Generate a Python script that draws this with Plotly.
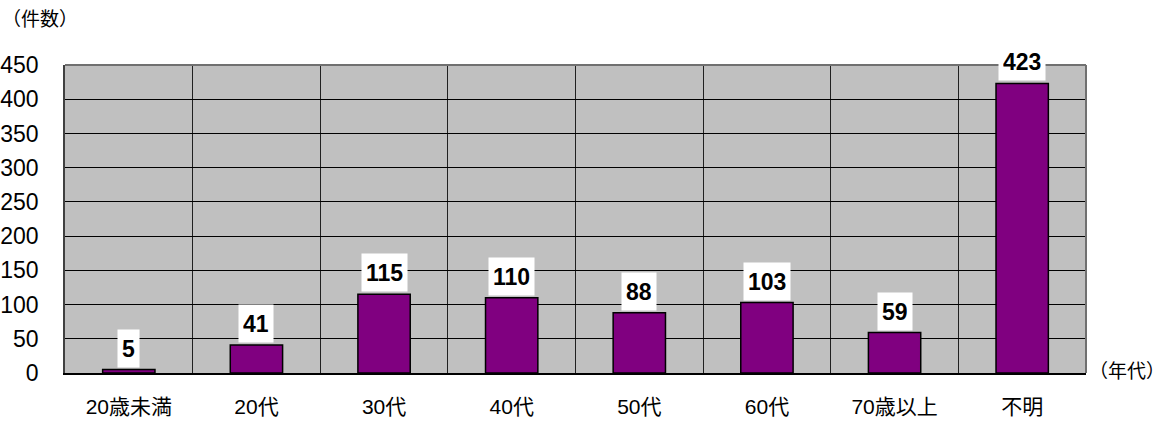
import plotly.graph_objects as go

categories = ["20歳未満", "20代", "30代", "40代", "50代", "60代", "70歳以上", "不明"]
counts = [5, 41, 115, 110, 88, 103, 59, 423]
y_ticks = [0, 50, 100, 150, 200, 250, 300, 350, 400, 450]

FONT = "Liberation Sans, Noto Sans CJK JP, sans-serif"
LABEL_FONT = "Liberation Sans, sans-serif"
W, H = 1176, 423
ML, MT = 65, 65
PLOT_R, PLOT_B = 1086, 373
MR, MB = W - PLOT_R, H - PLOT_B
PW, PH = W - ML - MR, H - MT - MB

fig = go.Figure()
fig.add_trace(go.Bar(
    x=categories, y=counts, width=0.41,
    marker=dict(color="#800080", line=dict(color="#000000", width=1.5)),
    showlegend=False, hoverinfo="x+y",
))

for c, v in zip(categories, counts):
    fig.add_annotation(
        x=c, y=v, xref="x", yref="y", text=str(v), showarrow=False,
        yanchor="bottom", yshift=2, bgcolor="#ffffff", borderpad=4,
        height=29, valign="middle",
        font=dict(family=LABEL_FONT, size=23, color="#000000", weight="bold"),
    )

def px_x(px):
    return (px - ML) / PW

def px_y(py):
    return (MT + PH - py) / PH

fig.add_annotation(
    xref="paper", yref="paper", x=px_x(0), y=px_y(19),
    xanchor="left", yanchor="middle", text="（件数）", showarrow=False,
    font=dict(family=FONT, size=19, color="#000000"),
)
fig.add_annotation(
    xref="paper", yref="paper", x=px_x(1087), y=px_y(371),
    xanchor="left", yanchor="middle", text="（年代）", showarrow=False,
    font=dict(family=FONT, size=19, color="#000000"),
)

fig.update_layout(
    width=W, height=H,
    margin=dict(l=ML, r=MR, t=MT, b=MB, autoexpand=False),
    paper_bgcolor="#ffffff", plot_bgcolor="#c0c0c0",
    bargap=0.59,
    xaxis=dict(
        type="category", tickson="boundaries", showgrid=True,
        gridcolor="#202020", gridwidth=1, ticks="", ticklabelstandoff=14,
        tickfont=dict(family=FONT, size=21, color="#000000"),
        showline=True, linecolor="#000000", linewidth=1.5,
        range=[-0.5, 7.5], zeroline=False,
    ),
    yaxis=dict(
        range=[0, 450], tickvals=y_ticks, showgrid=True,
        gridcolor="#000000", gridwidth=1, ticks="", ticklabelstandoff=20,
        tickfont=dict(family=FONT, size=23, color="#000000"),
        showline=True, linecolor="#404040", linewidth=1.5,
        zeroline=False,
    ),
    shapes=[
        dict(type="line", xref="paper", yref="paper", x0=0, x1=1, y0=1, y1=1,
             line=dict(color="#707070", width=2)),
        dict(type="line", xref="paper", yref="paper", x0=1, x1=1, y0=0, y1=1,
             line=dict(color="#707070", width=2)),
    ],
)

fig.write_html(
    "out.html",
    config={"displayModeBar": False},
    post_script="document.body.style.margin='0';document.body.style.overflow='hidden';",
)
